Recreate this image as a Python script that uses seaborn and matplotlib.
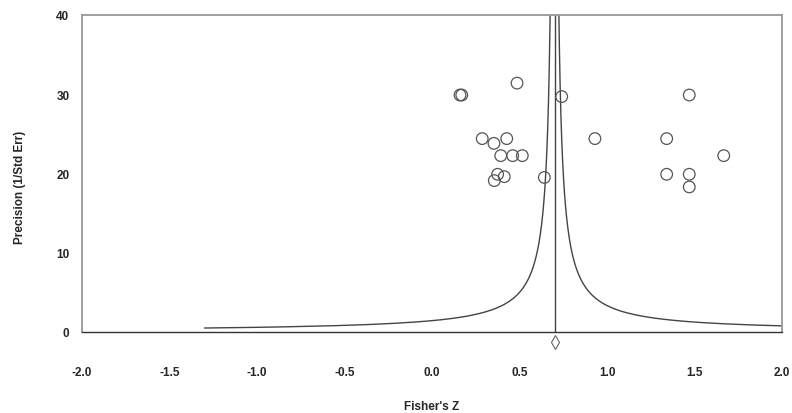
import numpy as np
import pandas as pd
import seaborn as sns
import matplotlib.pyplot as plt

# study effects (Fisher's Z) and precision (1/SE)
fisher_z = [0.16, 0.17, 0.486, 0.741, 0.287, 0.354, 0.427, 0.393, 0.461, 0.516,
            0.375, 0.356, 0.413, 0.642, 0.931, 1.470, 1.341, 1.667, 1.341, 1.470, 1.470]
precision = [29.9, 29.9, 31.4, 29.7, 24.4, 23.8, 24.4, 22.25, 22.25, 22.25,
             19.9, 19.1, 19.6, 19.5, 24.4, 29.9, 24.4, 22.25, 19.9, 19.9, 18.3]

pooled_z = 0.70
funnel_k = 1.0
x_ticks = [-2.0, -1.5, -1.0, -0.5, 0.0, 0.5, 1.0, 1.5, 2.0]
y_ticks = [0, 10, 20, 30, 40]

df = pd.DataFrame({'z': fisher_z, 'prec': precision})

sns.set_style('white')
plt.rcParams['font.family'] = ['Liberation Sans', 'DejaVu Sans']

fig = plt.figure(figsize=(7.92, 4.14), dpi=100)
ax = fig.add_axes([0.1035, 0.1957, 0.8839, 0.7657])

# funnel limits
prec_grid = np.linspace(0.5, 45, 600)
funnel = pd.DataFrame({'left': pooled_z - funnel_k / prec_grid,
                       'right': pooled_z + funnel_k / prec_grid,
                       'prec': prec_grid})
ax.plot(funnel['left'], funnel['prec'], color='#444444', lw=1.0)
ax.plot(funnel['right'], funnel['prec'], color='#444444', lw=1.0)
ax.plot([pooled_z, pooled_z], [0, 40], color='#444444', lw=1.0)

sns.scatterplot(data=df, x='z', y='prec', ax=ax, marker='o', s=70,
                facecolor='none', edgecolor='#555555', linewidth=0.9, zorder=3)

# combined effect diamond below axis
ax.plot([pooled_z], [-0.032], marker='d', ms=7, mfc='white', mec='#666666',
        mew=0.8, transform=ax.get_xaxis_transform(), clip_on=False)

ax.set_xlim(-2.0, 2.0)
ax.set_ylim(0, 40)
ax.set_xticks(x_ticks)
ax.set_xticklabels([f'{t:.1f}' for t in x_ticks], fontsize=8.5, fontweight='bold')
ax.set_yticks(y_ticks)
ax.set_yticklabels([str(t) for t in y_ticks], fontsize=8.5, fontweight='bold')
ax.tick_params(axis='x', direction='inout', length=5, width=0.8, color='#333333', pad=22)
ax.tick_params(axis='y', direction='out', length=3, width=0.8, color='#999999', pad=6)

for side in ['left', 'top', 'right']:
    ax.spines[side].set_color('#999999')
    ax.spines[side].set_linewidth(1.3)
ax.spines['bottom'].set_color('#333333')
ax.spines['bottom'].set_linewidth(1.0)

ax.set_xlabel("Fisher's Z", fontsize=8.5, fontweight='bold')
ax.xaxis.set_label_coords(0.5, -0.215)
ax.set_ylabel('Precision (1/Std Err)', fontsize=8.5, fontweight='bold')
ax.yaxis.set_label_coords(-0.08, 0.46)

fig.savefig('out.png', dpi=100)
